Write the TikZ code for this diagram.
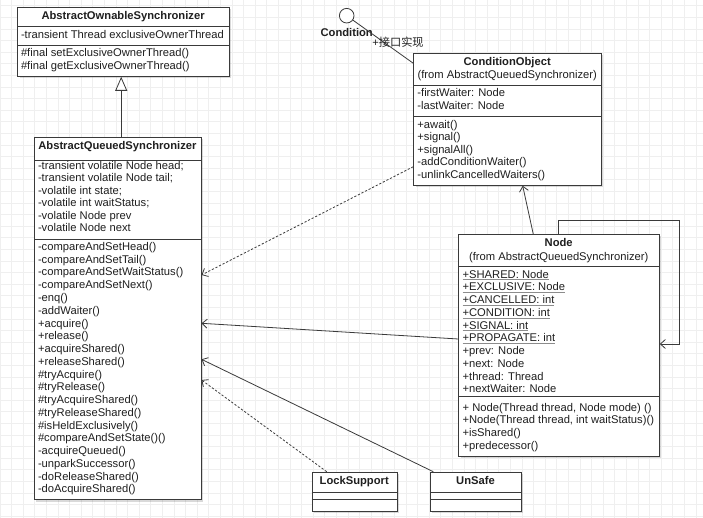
\documentclass[tikz,border=0pt]{standalone}
\usepackage{fontspec}
\setmainfont{Liberation Sans}
\newfontfamily\cjk{Noto Sans CJK SC}
\usetikzlibrary{arrows.meta,shadows}
\definecolor{ln}{HTML}{3A3A3A}
\definecolor{gridc}{HTML}{EFEFEF}
\newcommand{\myul}[1]{\textcolor{black!45}{\underline{\textcolor{black!88}{#1}}}}
\begin{document}
\begin{tikzpicture}[x=1pt,y=-1pt,
  every node/.style={font=\fontsize{11.2}{12.7}\selectfont},
  txt/.style={anchor=west, inner sep=0pt, text height=8pt, text depth=2.4pt, text=black!88},
  ttl/.style={anchor=center, inner sep=0pt, text height=8pt, text depth=2.4pt, font=\fontsize{11.2}{12.7}\selectfont\bfseries, text=black!88},
  sub/.style={ttl, font=\fontsize{11.2}{12.7}\selectfont},
  cls/.style={draw=ln, line width=0.8pt, fill=white, inner sep=0pt, anchor=north west,
    drop shadow={shadow xshift=1.8pt, shadow yshift=-1.8pt, opacity=0.15, fill=black}},
  conn/.style={draw=ln, line width=0.8pt},
  barb/.style={-{Straight Barb[length=5pt,width=9pt,line width=0.8pt]}},
  dsh/.style={dash pattern=on 2.2pt off 1.8pt},
]
\useasboundingbox (0,0) rectangle (703,518);
\fill[white] (0,0) rectangle (703,518);
% grid
\foreach \gx in {0,11.6,...,703} \draw[gridc, line width=0.7pt] (\gx,0) -- (\gx,518);
\foreach \gy in {5.8,17.4,...,518} \draw[gridc, line width=0.7pt] (0,\gy) -- (703,\gy);

% ---- class boxes
\node[cls, minimum width=211.7pt, minimum height=68.7pt] (aos) at (17.3,7.3) {};
\node[cls, minimum width=166.7pt, minimum height=362pt] (aqs) at (34,137.3) {};
\node[cls, minimum width=187.7pt, minimum height=132.3pt] (co) at (413.3,52.7) {};
\node[cls, minimum width=200.7pt, minimum height=221.4pt] (nd) at (458.3,234.3) {};
\node[cls, minimum width=85pt, minimum height=39.3pt] (ls) at (311.7,471.7) {};
\node[cls, minimum width=91pt, minimum height=39.3pt] (us) at (430,471.7) {};

% dividers
\foreach \b/\ya/\yb in {aos/26.7/45.7, aqs/160.7/239.3, co/85/116.7, nd/266/396.7, ls/492.3/499, us/492.3/499} {
  \draw[conn] (\b.west |- 0,\ya) -- (\b.east |- 0,\ya);
  \draw[conn] (\b.west |- 0,\yb) -- (\b.east |- 0,\yb);
}

% ---- AbstractOwnableSynchronizer
\node[ttl] (aost) at (123.1,17) {AbstractOwnableSynchronizer};
\node[txt] (aosa1) at (20.8,35.9) {-transient Thread exclusiveOwnerThread};
\node[txt] (aosm1) at (20.8,53.5) {\#final setExclusiveOwnerThread()};
\node[txt] (aosm2) at (20.8,66.6) {\#final getExclusiveOwnerThread()};

% ---- AbstractQueuedSynchronizer
\node[ttl] (aqst) at (117.4,147) {AbstractQueuedSynchronizer};
\foreach \t [count=\i] in {-transient volatile Node head;, -transient volatile Node tail;, -volatile int state;, -volatile int waitStatus;, -volatile Node prev, -volatile Node next}
  \node[txt] (aqsa\i) at (37.8,{166.7+12.5*(\i-1)}) {\t};
\foreach \t [count=\i] in {-compareAndSetHead(), -compareAndSetTail(), -compareAndSetWaitStatus(), -compareAndSetNext(), -enq(), -addWaiter(), +acquire(), +release(), +acquireShared(), +releaseShared(), \#tryAcquire(), \#tryRelease(), \#tryAcquireShared(), \#tryReleaseShared(), \#isHeldExclusively(), \#compareAndSetState()(), -acquireQueued(), -unparkSuccessor(), -doReleaseShared(), -doAcquireShared()}
  \node[txt] (aqsm\i) at (37.8,{247.7+12.75*(\i-1)}) {\t};

% ---- ConditionObject
\node[ttl] (cot) at (507.2,62.3) {ConditionObject};
\node[sub] (cos) at (507.2,75.7) {(from AbstractQueuedSynchronizer)};
\node[txt] (coa1) at (417.2,94) {-firstWaiter: Node};
\node[txt] (coa2) at (417.2,106.7) {-lastWaiter: Node};
\foreach \t [count=\i] in {+await(), +signal(), +signalAll(), -addConditionWaiter(), -unlinkCancelledWaiters()}
  \node[txt] (com\i) at (417.2,{125.7+12.5*(\i-1)}) {\t};

% ---- Node
\node[ttl] (ndt) at (558.7,243.7) {Node};
\node[sub] (nds) at (558.7,257.3) {(from AbstractQueuedSynchronizer)};
\foreach \t [count=\i] in {\myul{+SHARED: Node}, \myul{+EXCLUSIVE: Node}, \myul{+CANCELLED: int}, \myul{+CONDITION: int}, \myul{+SIGNAL: int}, \myul{+PROPAGATE: int}, +prev: Node, +next: Node, +thread: Thread, +nextWaiter: Node}
  \node[txt] (nda\i) at (462.4,{275.3+12.74*(\i-1)}) {\t};
\foreach \t [count=\i] in {{+ Node(Thread thread, Node mode) ()}, {+Node(Thread thread, int waitStatus)()}, +isShared(), +predecessor()}
  \node[txt] (ndm\i) at (462.4,{408.3+12.8*(\i-1)}) {\t};

% ---- LockSupport / UnSafe
\node[ttl] (lst) at (354.2,481.8) {LockSupport};
\node[ttl] (ust) at (475.5,481.8) {UnSafe};

% ---- Condition interface (lollipop)
\node[draw=ln, line width=0.8pt, circle, fill=white, minimum size=14.6pt, inner sep=0pt] (cond) at (346.7,15.7) {};
\node[ttl] (condl) at (346.7,33.5) {Condition};
\draw[conn] (cond) -- (co.west |- 0,63.3);
\node[sub] (condr) at (398,43.5) {+{\cjk 接口实现}};

% ---- connectors
\draw[conn, -{Triangle[length=14pt,width=12pt,fill=white,line width=0.8pt]}] (aqs.north -| 121.2,0) -- (aos.south -| 121.2,0);
\draw[conn, barb] (nd.north -| 533.3,0) -- (co.south -| 522.7,0);
\draw[conn, barb, dsh] (co.west |- 0,166.7) -- (aqs.east |- 0,275);
\draw[conn, barb] (nd.west |- 0,339) -- (aqs.east |- 0,323.3);
\draw[conn, barb] (us.north -| 433.3,0) -- (aqs.east |- 0,359.3);
\draw[conn, barb, dsh] (ls.north -| 326.7,0) -- (aqs.east |- 0,380);
\coordinate (lp1) at (558.3,220);
\coordinate (lp2) at (679.3,220);
\coordinate (lp3) at (679.3,344);
\draw[conn, barb] (nd.north -| lp1) -- (lp1) -- (lp2) -- (lp3) -- (nd.east |- lp3);
\end{tikzpicture}
\end{document}
